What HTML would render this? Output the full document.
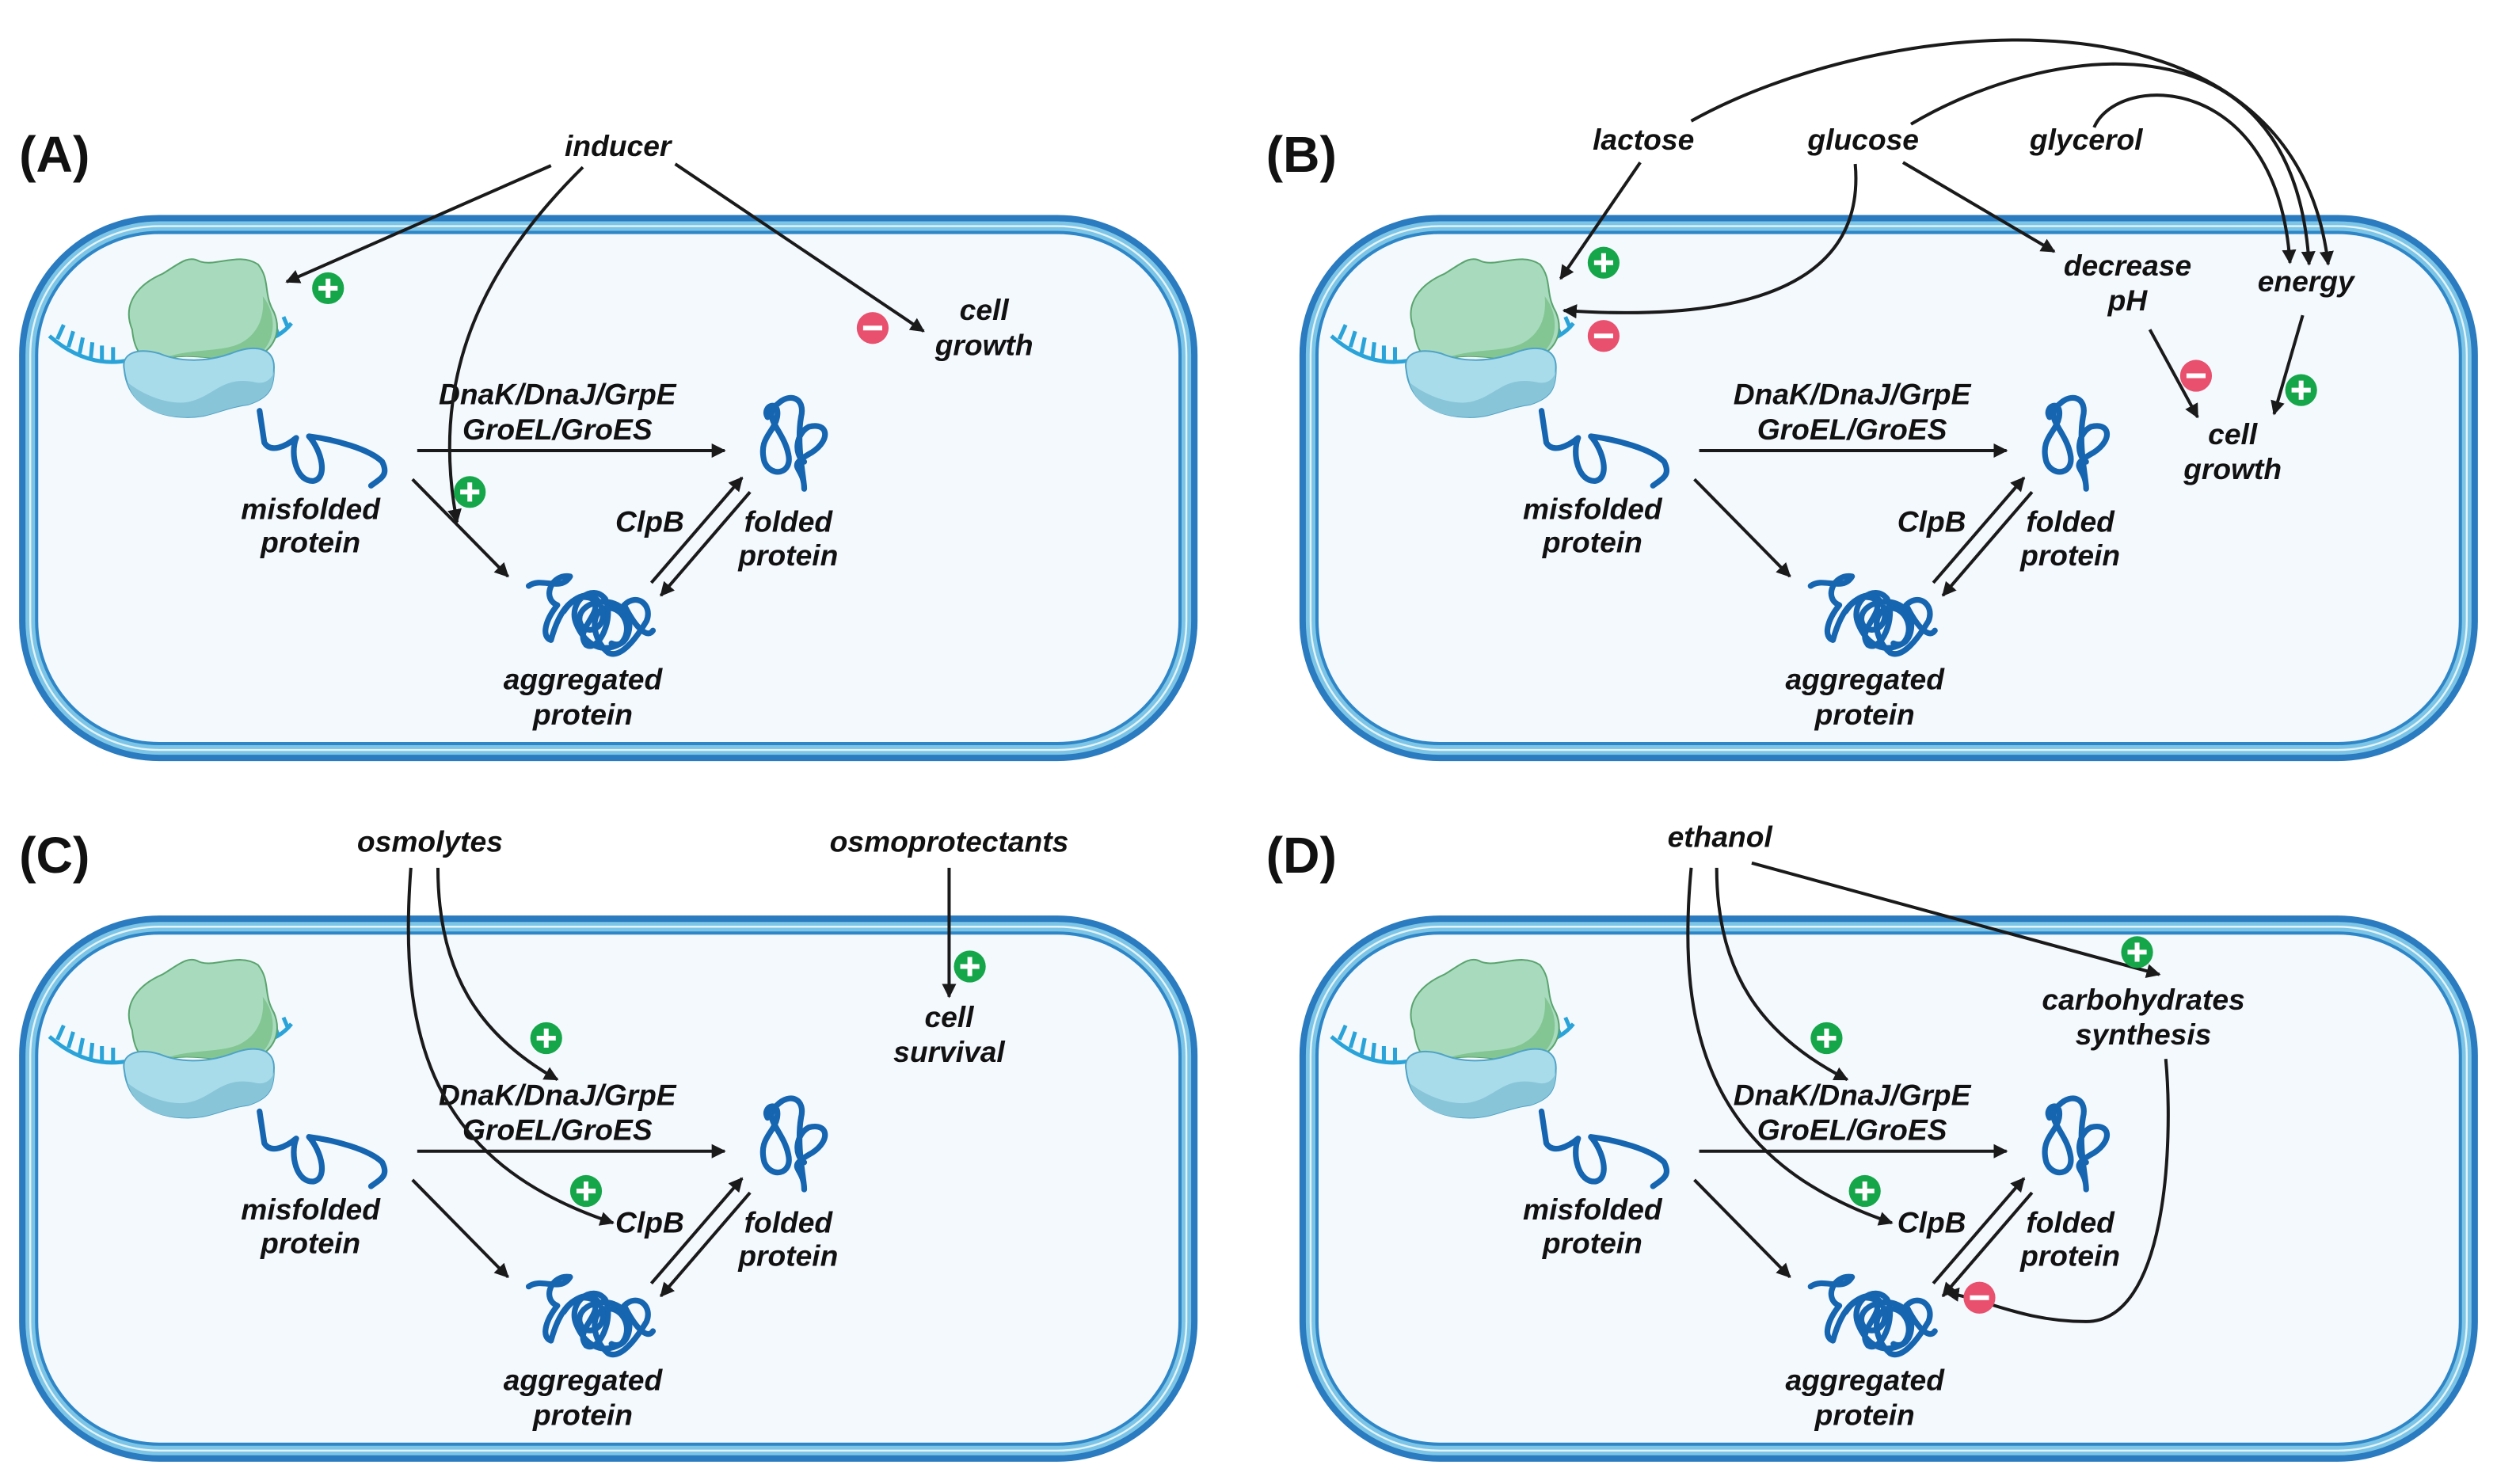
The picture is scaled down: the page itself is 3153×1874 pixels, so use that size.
<!DOCTYPE html>
<html><head><meta charset="utf-8"><style>
html,body{margin:0;padding:0;background:#fff}
svg{display:block}
text{font-family:"Liberation Sans",sans-serif;font-weight:bold;font-style:italic;font-size:18.5px;fill:#111;text-anchor:middle}
.lab{font-style:normal;font-size:32px;text-anchor:start}
.ar{fill:none;stroke:#1a1a1a;stroke-width:2;marker-end:url(#ah)}
.pr{fill:none;stroke:#1565b0;stroke-width:3.6;stroke-linecap:round;stroke-linejoin:round}
</style></head><body>
<svg width="3153" height="1874" viewBox="0 0 1568 932" preserveAspectRatio="none" xmlns="http://www.w3.org/2000/svg">
<defs>
<marker id="ah" viewBox="0 0 10 10" refX="9" refY="5" markerWidth="9" markerHeight="9" orient="auto" markerUnits="userSpaceOnUse">
<path d="M0,0 L10,5 L0,10 z" fill="#1a1a1a"/></marker>
<g id="cell">
<rect x="0" y="0" width="740" height="343" rx="88" fill="#2a7bc0"/>
<rect x="4" y="4" width="732" height="335" rx="84" fill="#7cc5e6"/>
<rect x="7" y="7" width="726" height="329" rx="81" fill="none" stroke="#e4f4fb" stroke-width="1.2"/>
<rect x="10" y="10" width="720" height="323" rx="78" fill="#2f86c7"/>
<rect x="12" y="12" width="716" height="319" rx="76" fill="#f4f9fe"/>
</g>
<g id="pm">
<g stroke="#2aa3d8" stroke-width="2.5" fill="none">
<path d="M31,211 Q55,232 82,226"/>
<path d="M36,213 l4,-9 M43,218 l3,-10 M50,222 l2,-10 M57,225 l1,-10 M64,227 l0,-10 M71,228 l0,-10"/>
<path d="M163,215 Q176,212 183,203"/>
<path d="M168,214 l-3,-8 M175,211 l-3,-8 M181,206 l-3,-7"/>
</g>
<path d="M83,207 C76,190 88,178 102,172 C112,166 118,160 125,164 C135,168 150,158 162,166 C170,176 165,184 172,196 C178,210 170,222 158,225 C140,228 120,220 100,226 C88,228 84,218 83,207 Z" fill="#a8dbbd" stroke="#5aa46e" stroke-width="1"/>
<path d="M165,186 C176,200 172,220 158,225 C140,228 120,220 100,226 C118,218 140,222 152,215 C164,208 166,196 165,186 Z" fill="#83c693"/>
<path d="M78,232 C76,222 86,218 100,222 C112,227 128,228 145,222 C160,216 173,218 172,232 C172,245 168,250 156,254 C140,256 133,262 118,262 C96,262 80,252 78,232 Z" fill="#a9dcea" stroke="#4fa3c7" stroke-width="1"/>
<path d="M80,240 C92,250 110,255 120,252 C135,248 140,236 160,240 C168,242 172,236 172,232 C172,245 168,250 156,254 C140,256 133,262 118,262 C96,262 84,254 80,240 Z" fill="#88c5d8"/>
<path class="pr" d="M163,258 L166,278 C170,285 180,280 186,275 C182,285 186,303 197,302 C206,300 202,283 194,274 C210,276 232,282 240,290 C244,298 240,300 233,305"/>
<path class="pr" d="M482,262 C478,255 490,250 488,262 C486,272 476,275 480,290 C484,300 498,298 495,285 C492,270 478,262 488,254 C496,246 506,250 503,262 C500,280 505,300 505,307 C505,292 492,294 510,284 C522,276 520,265 508,268 C500,272 498,285 505,290"/>
<path class="pr" d="M332,368 C340,362 352,372 358,362 C346,360 340,376 350,380 C342,390 340,400 346,402 C352,380 362,372 372,376 C380,385 360,395 368,405 C376,410 386,388 380,376 C372,366 356,378 362,392 C366,402 376,412 390,404 C398,396 392,380 380,382 C370,385 372,402 382,410 C390,414 400,400 406,390 C410,380 400,372 392,380 C398,392 406,402 410,396"/>
<path class="pr" d="M354,384 C362,372 374,370 378,382 C382,396 366,400 364,390 C362,378 386,372 394,386 C398,396 392,408 384,404"/>
<path class="ar" d="M262,283 L455,283"/>
<path class="ar" d="M259,301 L319,362"/>
<path class="ar" d="M409,366 L466,300"/>
<path class="ar" d="M471,309 L415,374"/>
</g>
<g id="plus"><circle r="10" fill="#16a64a"/><path d="M-6,0 H6 M0,-6 V6" stroke="#fff" stroke-width="3"/></g>
<g id="minus"><circle r="10" fill="#e8506e"/><path d="M-6,0 H6" stroke="#fff" stroke-width="3"/></g>
</defs>
<rect width="1568" height="932" fill="#fff"/>
<use href="#cell" x="12" y="135"/>
<use href="#cell" x="816" y="135"/>
<use href="#cell" x="12" y="575"/>
<use href="#cell" x="816" y="575"/>
<use href="#pm"/>
<use href="#pm" x="805"/>
<use href="#pm" y="440"/>
<use href="#pm" x="805" y="440"/>

<g>
<text x="195" y="326">misfolded</text><text x="195" y="347">protein</text>
<text x="350" y="254">DnaK/DnaJ/GrpE</text><text x="350" y="276">GroEL/GroES</text>
<text x="408" y="334">ClpB</text>
<text x="495" y="334">folded</text><text x="495" y="355">protein</text>
<text x="366" y="433">aggregated</text><text x="366" y="455">protein</text>
</g>
<g transform="translate(805,0)">
<text x="195" y="326">misfolded</text><text x="195" y="347">protein</text>
<text x="358" y="254">DnaK/DnaJ/GrpE</text><text x="358" y="276">GroEL/GroES</text>
<text x="408" y="334">ClpB</text>
<text x="495" y="334">folded</text><text x="495" y="355">protein</text>
<text x="366" y="433">aggregated</text><text x="366" y="455">protein</text>
</g>
<g transform="translate(0,440)">
<text x="195" y="326">misfolded</text><text x="195" y="347">protein</text>
<text x="350" y="254">DnaK/DnaJ/GrpE</text><text x="350" y="276">GroEL/GroES</text>
<text x="408" y="334">ClpB</text>
<text x="495" y="334">folded</text><text x="495" y="355">protein</text>
<text x="366" y="433">aggregated</text><text x="366" y="455">protein</text>
</g>
<g transform="translate(805,440)">
<text x="195" y="326">misfolded</text><text x="195" y="347">protein</text>
<text x="358" y="254">DnaK/DnaJ/GrpE</text><text x="358" y="276">GroEL/GroES</text>
<text x="408" y="334">ClpB</text>
<text x="495" y="334">folded</text><text x="495" y="355">protein</text>
<text x="366" y="433">aggregated</text><text x="366" y="455">protein</text>
</g>

<text class="lab" x="12" y="108">(A)</text>
<text x="388" y="98">inducer</text>
<path class="ar" d="M346,104 L180,177"/>
<path class="ar" d="M366,105 C300,170 270,240 287,328"/>
<path class="ar" d="M424,103 L580,208"/>
<use href="#plus" x="206" y="181"/>
<use href="#plus" x="295" y="309"/>
<use href="#minus" x="548" y="206"/>
<text x="618" y="201">cell</text><text x="618" y="223">growth</text>

<text class="lab" x="795" y="108">(B)</text>
<text x="1032" y="94">lactose</text>
<text x="1170" y="94">glucose</text>
<text x="1310" y="94">glycerol</text>
<path class="ar" d="M1030,102 L980,175"/>
<path class="ar" d="M1165,103 C1170,160 1130,205 982,195"/>
<path class="ar" d="M1195,102 L1290,158"/>
<path class="ar" d="M1062,76 C1180,10 1440,-20 1462,166"/>
<path class="ar" d="M1200,78 C1280,30 1440,0 1450,166"/>
<path class="ar" d="M1315,80 C1330,45 1430,45 1438,165"/>
<text x="1336" y="173">decrease</text><text x="1336" y="195">pH</text>
<text x="1448" y="183">energy</text>
<path class="ar" d="M1350,207 L1380,262"/>
<path class="ar" d="M1446,198 L1428,260"/>
<use href="#minus" x="1379" y="236"/>
<use href="#plus" x="1445" y="245"/>
<use href="#plus" x="1007" y="165"/>
<use href="#minus" x="1007" y="211"/>
<text x="1402" y="279">cell</text><text x="1402" y="301">growth</text>

<text class="lab" x="12" y="548">(C)</text>
<text x="270" y="535">osmolytes</text>
<text x="596" y="535">osmoprotectants</text>
<path class="ar" d="M596,545 L596,626"/>
<use href="#plus" x="609" y="607"/>
<text x="596" y="645">cell</text><text x="596" y="667">survival</text>
<path class="ar" d="M275,545 C275,610 300,650 350,678"/>
<path class="ar" d="M258,545 C250,650 270,730 385,768"/>
<use href="#plus" x="343" y="652"/>
<use href="#plus" x="368" y="748"/>

<text class="lab" x="795" y="548">(D)</text>
<text x="1080" y="532">ethanol</text>
<path class="ar" d="M1100,542 L1356,612"/>
<use href="#plus" x="1342" y="598"/>
<text x="1346" y="634">carbohydrates</text><text x="1346" y="656">synthesis</text>
<path class="ar" d="M1078,545 C1078,610 1105,650 1160,678"/>
<path class="ar" d="M1062,545 C1052,650 1075,730 1188,768"/>
<use href="#plus" x="1147" y="652"/>
<use href="#plus" x="1171" y="748"/>
<path class="ar" d="M1360,665 C1365,720 1360,830 1310,830 C1270,830 1245,815 1222,812"/>
<use href="#minus" x="1243" y="815"/>
</svg>
</body></html>
